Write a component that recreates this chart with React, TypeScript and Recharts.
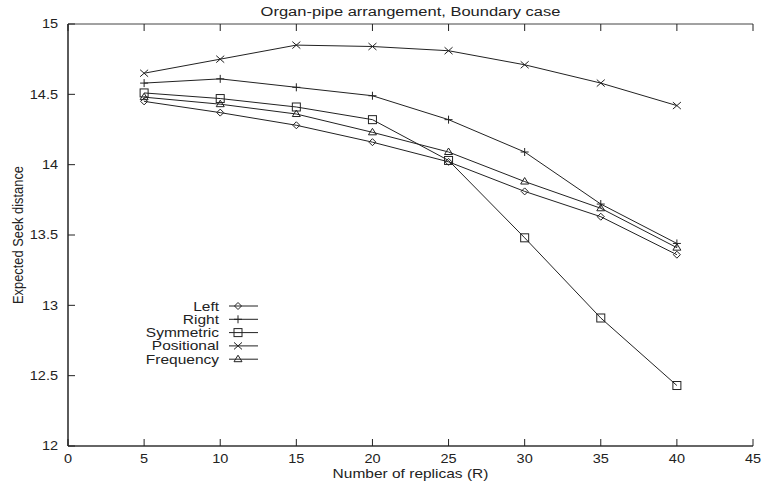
import React from "react";
import { LineChart, Line, XAxis, YAxis, Legend, Label } from "recharts";

// values
const replicas = [5, 10, 15, 20, 25, 30, 35, 40];
const leftVals = [14.45, 14.37, 14.28, 14.16, 14.02, 13.81, 13.63, 13.36];
const rightVals = [14.58, 14.61, 14.55, 14.49, 14.32, 14.09, 13.72, 13.44];
const symmetricVals = [14.51, 14.47, 14.41, 14.32, 14.03, 13.48, 12.91, 12.43];
const positionalVals = [14.65, 14.75, 14.85, 14.84, 14.81, 14.71, 14.58, 14.42];
const frequencyVals = [14.48, 14.43, 14.36, 14.23, 14.09, 13.88, 13.69, 13.41];

const seriesNames = ["Left", "Right", "Symmetric", "Positional", "Frequency"];
const seriesKeys = ["left", "right", "symmetric", "positional", "frequency"];
const seriesShapes = ["diamond", "plus", "square", "cross", "triangle"];

const xTicks = [0, 5, 10, 15, 20, 25, 30, 35, 40, 45];
const yTicks = [12, 12.5, 13, 13.5, 14, 14.5, 15];

const data = replicas.map((r, i) => ({
  r,
  left: leftVals[i],
  right: rightVals[i],
  symmetric: symmetricVals[i],
  positional: positionalVals[i],
  frequency: frequencyVals[i],
}));

const INK = "#222";
const FONT = "'Liberation Sans', Arial, sans-serif";
const SY = 0.83; // the reference text is squashed vertically

// text drawn with the reference's squashed aspect
const StretchText = ({
  x,
  y,
  size,
  anchor = "middle",
  dy = "0",
  rotate = 0,
  children,
}: any) => (
  <text
    transform={`translate(${x},${y}) scale(1,${SY})${rotate ? ` rotate(${rotate})` : ""}`}
    x={0}
    y={0}
    dy={dy}
    textAnchor={anchor}
    fontSize={size}
    fontFamily={FONT}
    fill={INK}
  >
    {children}
  </text>
);

const Marker = ({ shape, cx, cy }: { shape: string; cx: number; cy: number }) => {
  if (cx == null || cy == null) return null;
  const p = { stroke: INK, strokeWidth: 1, fill: "none" };
  switch (shape) {
    case "diamond":
      return <path d={`M${cx},${cy - 3.5}L${cx + 3.5},${cy}L${cx},${cy + 3.5}L${cx - 3.5},${cy}Z`} {...p} />;
    case "plus":
      return <path d={`M${cx - 4},${cy}H${cx + 4}M${cx},${cy - 4}V${cy + 4}`} {...p} />;
    case "square":
      return <rect x={cx - 4} y={cy - 4} width={8} height={8} {...p} />;
    case "cross":
      return <path d={`M${cx - 4},${cy - 3.5}L${cx + 4},${cy + 3.5}M${cx - 4},${cy + 3.5}L${cx + 4},${cy - 3.5}`} {...p} />;
    default:
      return <path d={`M${cx},${cy - 4}L${cx + 4},${cy + 2.5}L${cx - 4},${cy + 2.5}Z`} {...p} />;
  }
};

const LeftTick = (props: any) => {
  const { x, y, payload } = props;
  return (
    <g>
      <line x1={x + 10} x2={x + 17} y1={y} y2={y} stroke={INK} />
      <StretchText x={x} y={y} size={14.5} anchor="end" dy="0.35em">
        {payload.value}
      </StretchText>
    </g>
  );
};

const BottomTick = (props: any) => {
  const { x, y, payload } = props;
  return (
    <g>
      <line x1={x} x2={x} y1={y - 12.5} y2={y - 19.5} stroke={INK} />
      <StretchText x={x} y={y} size={14.5} dy="0.35em">
        {payload.value}
      </StretchText>
    </g>
  );
};

const TopTick = (props: any) => {
  const { x, y } = props;
  return <line x1={x} x2={x} y1={y} y2={y + 7} stroke={INK} />;
};

const RightTick = (props: any) => {
  const { x, y } = props;
  return <line x1={x} x2={x - 7} y1={y} y2={y} stroke={INK} />;
};

const renderLegend = () => (
  <svg width={140} height={75} style={{ display: "block" }}>
    {seriesNames.map((name, i) => {
      const y = 9 + i * 13.3;
      return (
        <g key={name}>
          <StretchText x={89} y={y} size={15.5} anchor="end" dy="0.35em">
            {name}
          </StretchText>
          <line x1={99} x2={128} y1={y} y2={y} stroke={INK} />
          <Marker shape={seriesShapes[i]} cx={108} cy={y} />
        </g>
      );
    })}
  </svg>
);

export default function App() {
  return (
    <div style={{ position: "absolute", left: 0, top: 0, background: "#fff" }}>
      <LineChart width={762} height={483} data={data} margin={{ top: 0, right: 9, left: 0, bottom: 0 }}>
        <XAxis
          dataKey="r"
          type="number"
          domain={[0, 45]}
          ticks={xTicks}
          interval={0}
          height={37}
          tickSize={0}
          tickMargin={12.5}
          tick={<BottomTick />}
          tickLine={false}
          axisLine={{ stroke: "#333", strokeWidth: 1.6 }}
        >
          <Label
            content={(p: any) => (
              <StretchText x={p.viewBox.x + p.viewBox.width / 2} y={478} size={15.5}>
                Number of replicas (R)
              </StretchText>
            )}
          />
        </XAxis>
        <XAxis
          xAxisId="top"
          orientation="top"
          dataKey="r"
          type="number"
          domain={[0, 45]}
          ticks={xTicks}
          interval={0}
          height={24}
          tickSize={0}
          tickMargin={0}
          tick={<TopTick />}
          tickLine={false}
          axisLine={{ stroke: "#444", strokeWidth: 1 }}
        >
          <Label
            content={(p: any) => (
              <StretchText x={p.viewBox.x + p.viewBox.width / 2} y={15.5} size={16.5}>
                Organ-pipe arrangement, Boundary case
              </StretchText>
            )}
          />
        </XAxis>
        <YAxis
          type="number"
          domain={[12, 15]}
          ticks={yTicks}
          interval={0}
          width={68}
          tickSize={0}
          tickMargin={10}
          tick={<LeftTick />}
          tickLine={false}
          axisLine={{ stroke: "#333", strokeWidth: 1.6 }}
        >
          <Label
            content={(p: any) => (
              <StretchText
                x={18}
                y={p.viewBox.y + p.viewBox.height / 2}
                size={15.5}
                rotate={-90}
                dy="0.35em"
              >
                Expected Seek distance
              </StretchText>
            )}
          />
        </YAxis>
        <YAxis
          yAxisId="right"
          orientation="right"
          type="number"
          domain={[12, 15]}
          ticks={yTicks}
          interval={0}
          width={0}
          tickSize={0}
          tickMargin={0}
          tick={<RightTick />}
          tickLine={false}
          axisLine={{ stroke: "#444", strokeWidth: 1 }}
        />
        <Legend
          layout="vertical"
          align="center"
          verticalAlign="middle"
          content={renderLegend}
          wrapperStyle={{ left: 130, top: 297, width: 140, height: 75 }}
        />
        {seriesKeys.map((key, i) => (
          <Line
            key={key}
            dataKey={key}
            name={seriesNames[i]}
            stroke={INK}
            strokeWidth={1}
            isAnimationActive={false}
            dot={(p: any) => <Marker key={`${key}-${p.index}`} shape={seriesShapes[i]} cx={p.cx} cy={p.cy} />}
            activeDot={false}
          />
        ))}
      </LineChart>
    </div>
  );
}
